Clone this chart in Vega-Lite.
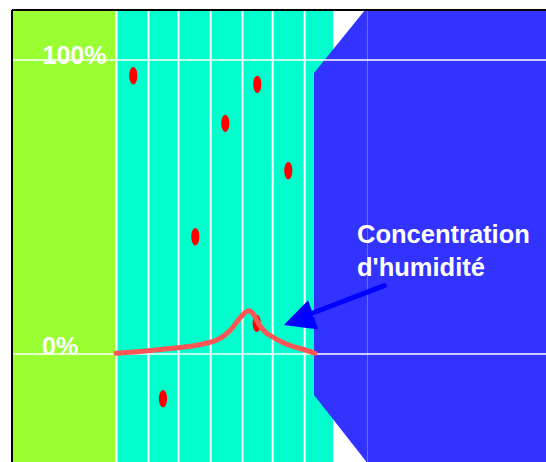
{
  "$schema": "https://vega.github.io/schema/vega-lite/v6.json",
  "width": 540,
  "height": 460,
  "autosize": {"type": "none"},
  "padding": {"left": 12, "top": 10, "right": 0, "bottom": 0},
  "background": "white",
  "config": {
    "view": {"stroke": null},
    "axis": {"disable": true},
    "legend": {"disable": true}
  },
  "layer": [
    {
      "data": {"values": [{"x0": 0, "x1": 10.45, "layer": "mur"}]},
      "mark": {"type": "rect", "color": "#99FF33"},
      "encoding": {
        "x": {"field": "x0", "type": "quantitative", "scale": {"domain": [0, 54], "nice": false, "zero": false}},
        "x2": {"field": "x1"}
      }
    },
    {
      "data": {"values": [{"x0": 10.45, "x1": 32.1, "layer": "isolant"}]},
      "mark": {"type": "rect", "color": "#00FFCC"},
      "encoding": {
        "x": {"field": "x0", "type": "quantitative", "scale": {"domain": [0, 54], "nice": false, "zero": false}},
        "x2": {"field": "x1"}
      }
    },
    {
      "data": {"values": [{"x": 10.45}, {"x": 13.65}, {"x": 16.65}, {"x": 19.87}, {"x": 23.05}, {"x": 26.07}, {"x": 29.27}]},
      "mark": {"type": "rule", "color": "white", "strokeWidth": 2},
      "encoding": {
        "x": {"field": "x", "type": "quantitative", "scale": {"domain": [0, 54], "nice": false, "zero": false}}
      }
    },
    {
      "data": {"values": [
        {"x": 30.2, "top": 95.58, "bot": -13.95},
        {"x": 35.3, "top": 117.007, "bot": -36.05},
        {"x": 36.0, "top": 117.007, "bot": -39.456},
        {"x": 54, "top": 117.007, "bot": -39.456}
      ]},
      "mark": {"type": "area", "color": "#3333FF", "orient": "vertical", "opacity": 1},
      "encoding": {
        "x": {"field": "x", "type": "quantitative", "scale": {"domain": [0, 54], "nice": false, "zero": false}},
        "y": {"field": "top", "type": "quantitative", "scale": {"domain": [-39.456, 117.007], "nice": false, "zero": false}},
        "y2": {"field": "bot"}
      }
    },
    {
      "data": {"values": [{"x": 35.55}]},
      "mark": {"type": "rule", "color": "#6A6AFF", "strokeWidth": 1},
      "encoding": {
        "x": {"field": "x", "type": "quantitative", "scale": {"domain": [0, 54], "nice": false, "zero": false}}
      }
    },
    {
      "data": {"values": [{"p": 0}, {"p": 100}]},
      "mark": {"type": "rule", "color": "white", "strokeWidth": 1.5},
      "encoding": {
        "y": {"field": "p", "type": "quantitative", "scale": {"domain": [-39.456, 117.007], "nice": false, "zero": false}}
      }
    },
    {
      "data": {"values": [{"x": 3.05, "p": 98.64, "label": "100%"}, {"x": 3.0, "p": -0.34, "label": "0%"}]},
      "mark": {"type": "text", "color": "white", "font": "Liberation Sans", "fontWeight": "bold", "fontSize": 25, "align": "left", "baseline": "alphabetic"},
      "encoding": {
        "x": {"field": "x", "type": "quantitative", "scale": {"domain": [0, 54], "nice": false, "zero": false}},
        "y": {"field": "p", "type": "quantitative", "scale": {"domain": [-39.456, 117.007], "nice": false, "zero": false}},
        "text": {"field": "label"}
      }
    },
    {
      "data": {"values": [
        {"x": 12.13, "p": 94.66},
        {"x": 24.53, "p": 91.73},
        {"x": 21.33, "p": 78.47},
        {"x": 27.63, "p": 62.35},
        {"x": 18.33, "p": 39.9},
        {"x": 24.47, "p": 10.44},
        {"x": 15.1, "p": -15.2}
      ]},
      "mark": {"type": "point", "shape": "M 0,-1 A 0.47,1 0 1,1 0,1 A 0.47,1 0 1,1 0,-1 Z", "size": 300, "filled": true, "fill": "#FF0000", "opacity": 1, "strokeWidth": 0},
      "encoding": {
        "x": {"field": "x", "type": "quantitative", "scale": {"domain": [0, 54], "nice": false, "zero": false}},
        "y": {"field": "p", "type": "quantitative", "scale": {"domain": [-39.456, 117.007], "nice": false, "zero": false}}
      }
    },
    {
      "data": {"values": [
        {"x": 10.4, "p": 0.24},
        {"x": 12.8, "p": 0.85},
        {"x": 15.3, "p": 1.7},
        {"x": 18.3, "p": 2.89},
        {"x": 19.3, "p": 3.57},
        {"x": 20.3, "p": 4.52},
        {"x": 21.3, "p": 6.46},
        {"x": 22.0, "p": 8.74},
        {"x": 22.63, "p": 11.56},
        {"x": 23.3, "p": 14.05},
        {"x": 23.7, "p": 14.73},
        {"x": 24.13, "p": 13.61},
        {"x": 24.63, "p": 10.44},
        {"x": 25.3, "p": 7.59},
        {"x": 26.3, "p": 5.34},
        {"x": 27.3, "p": 3.57},
        {"x": 28.1, "p": 2.55},
        {"x": 29.3, "p": 1.36},
        {"x": 30.3, "p": 0.24}
      ]},
      "mark": {"type": "line", "color": "#FF5555", "strokeWidth": 5, "interpolate": "monotone", "strokeCap": "round", "strokeJoin": "round"},
      "encoding": {
        "x": {"field": "x", "type": "quantitative", "scale": {"domain": [0, 54], "nice": false, "zero": false}},
        "y": {"field": "p", "type": "quantitative", "scale": {"domain": [-39.456, 117.007], "nice": false, "zero": false}}
      }
    },
    {
      "data": {"values": [{"x": 37.23, "p": 23.23, "x2": 29.8, "p2": 13.6}]},
      "mark": {"type": "rule", "color": "#0000FF", "strokeWidth": 5, "strokeCap": "round"},
      "encoding": {
        "x": {"field": "x", "type": "quantitative", "scale": {"domain": [0, 54], "nice": false, "zero": false}},
        "y": {"field": "p", "type": "quantitative", "scale": {"domain": [-39.456, 117.007], "nice": false, "zero": false}},
        "x2": {"field": "x2"},
        "y2": {"field": "p2"}
      }
    },
    {
      "data": {"values": [{"x": 28.65, "p": 11.56}]},
      "mark": {"type": "point", "shape": "M -1,0 L 1,-1 L 1,1 Z", "size": 961, "angle": 341, "filled": true, "fill": "#0000FF", "opacity": 1, "strokeWidth": 0},
      "encoding": {
        "x": {"field": "x", "type": "quantitative", "scale": {"domain": [0, 54], "nice": false, "zero": false}},
        "y": {"field": "p", "type": "quantitative", "scale": {"domain": [-39.456, 117.007], "nice": false, "zero": false}}
      }
    },
    {
      "data": {"values": [{"x": 34.5, "p": 37.76, "label": "Concentration"}, {"x": 34.5, "p": 26.53, "label": "d'humidité"}]},
      "mark": {"type": "text", "color": "white", "font": "Liberation Sans", "fontWeight": "bold", "fontSize": 25.5, "align": "left", "baseline": "alphabetic"},
      "encoding": {
        "x": {"field": "x", "type": "quantitative", "scale": {"domain": [0, 54], "nice": false, "zero": false}},
        "y": {"field": "p", "type": "quantitative", "scale": {"domain": [-39.456, 117.007], "nice": false, "zero": false}},
        "text": {"field": "label"}
      }
    },
    {
      "data": {"values": [{"x": 0}]},
      "mark": {"type": "rule", "color": "black", "strokeWidth": 2},
      "encoding": {
        "x": {"field": "x", "type": "quantitative", "scale": {"domain": [0, 54], "nice": false, "zero": false}}
      }
    },
    {
      "data": {"values": [{"p": 117.007}]},
      "mark": {"type": "rule", "color": "black", "strokeWidth": 2},
      "encoding": {
        "y": {"field": "p", "type": "quantitative", "scale": {"domain": [-39.456, 117.007], "nice": false, "zero": false}}
      }
    }
  ]
}
